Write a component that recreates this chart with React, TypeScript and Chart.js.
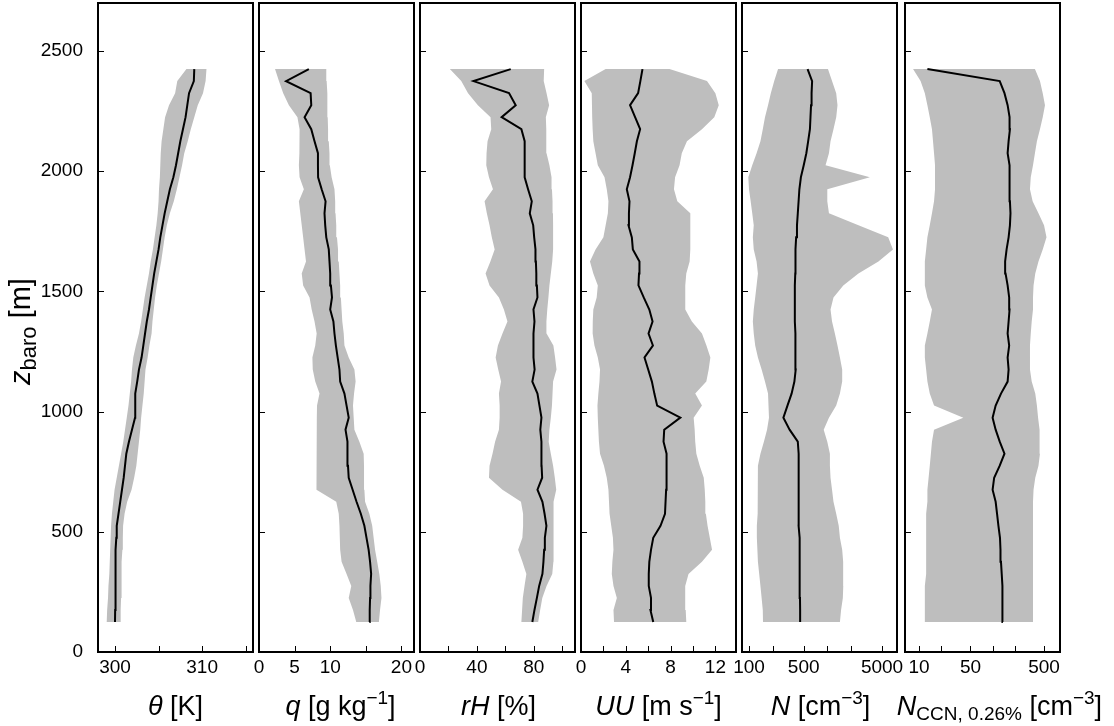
import React, { useEffect, useRef } from 'react';
import { Chart, registerables } from 'chart.js';

Chart.register(...registerables);

// Altitude levels of the profiles [m]
const HEIGHTS = [
  125, 175, 225, 275, 325, 375, 425, 475, 525, 575,
  625, 675, 725, 775, 825, 875, 925, 975, 1025, 1075,
  1125, 1175, 1225, 1275, 1325, 1375, 1425, 1475, 1525, 1575,
  1625, 1675, 1725, 1775, 1825, 1875, 1925, 1975, 2025, 2075,
  2125, 2175, 2225, 2275, 2325, 2375, 2425,
];

// Potential temperature [K]
const THETA_MEAN = [
  300.0, 300.02, 300.03, 300.05, 300.06, 300.08, 300.1, 300.15, 300.2, 300.4,
  300.6, 300.8, 301.0, 301.15, 301.3, 301.6, 301.95, 302.3, 302.3, 302.35,
  302.55, 302.75, 303.05, 303.25, 303.45, 303.65, 303.9, 304.1, 304.3, 304.5,
  304.75, 305.0, 305.2, 305.45, 305.7, 306.0, 306.3, 306.7, 307.0, 307.25,
  307.5, 307.8, 308.1, 308.3, 308.5, 309.05, 309.1,
];
const THETA_MIN = [
  299.05, 299.1, 299.2, 299.25, 299.35, 299.4, 299.45, 299.5, 299.55, 299.65,
  299.8, 299.95, 300.2, 300.45, 300.7, 300.95, 301.15, 301.35, 301.55, 301.7,
  301.85, 301.95, 302.1, 302.4, 302.75, 303.0, 303.2, 303.4, 303.65, 303.9,
  304.1, 304.35, 304.55, 304.75, 304.9, 305.0, 305.05, 305.15, 305.2, 305.25,
  305.35, 305.55, 305.75, 306.2, 306.9, 307.15, 308.2,
];
const THETA_MAX = [
  300.65, 300.65, 300.7, 300.72, 300.75, 300.8, 300.85, 300.9, 300.93, 301.1,
  301.4, 301.9, 302.2, 302.45, 302.6, 302.75, 302.9, 303.0, 303.15, 303.3,
  303.4, 303.5, 303.75, 303.95, 304.2, 304.3, 304.45, 304.6, 304.8, 305.05,
  305.3, 305.5, 305.7, 305.95, 306.3, 306.75, 307.1, 307.4, 307.7, 307.95,
  308.35, 308.7, 309.1, 309.5, 310.1, 310.4, 310.5,
];

// Specific humidity [g/kg]
const Q_MEAN = [
  15.5, 15.55, 15.6, 15.65, 15.75, 15.6, 15.4, 15.1, 14.8, 14.3,
  13.7, 13.15, 12.6, 12.5, 12.45, 12.4, 12.15, 12.6, 12.3, 12.0,
  11.4, 11.3, 11.05, 10.8, 10.6, 10.45, 10.0, 10.25, 10.1, 10.0,
  9.9, 9.8, 9.45, 9.3, 9.2, 9.35, 8.8, 8.3, 8.28, 8.28,
  7.8, 7.34, 6.4, 7.34, 7.25, 3.8, 7.0,
];
const Q_MIN = [
  13.66, 13.2, 12.6, 12.96, 12.3, 11.6, 11.4, 11.35, 11.3, 11.2,
  10.85, 8.05, 8.05, 8.05, 8.08, 8.1, 8.1, 8.12, 8.15, 8.5,
  7.9, 7.55, 7.5, 7.9, 8.1, 7.8, 7.4, 7.1, 6.2, 6.0,
  6.6, 6.4, 6.2, 6.0, 5.8, 5.6, 6.3, 5.7, 5.6, 5.65,
  5.7, 5.7, 5.4, 4.2, 3.4, 2.8, 2.25,
];
const Q_MAX = [
  16.84, 17.0, 17.2, 17.1, 16.9, 16.6, 16.3, 16.1, 15.9, 15.5,
  14.9, 14.8, 14.75, 14.75, 14.7, 14.1, 13.4, 13.3, 13.2, 13.35,
  13.57, 13.4, 12.6, 12.0, 11.9, 11.7, 11.6, 11.5, 11.4, 11.3,
  11.2, 11.1, 10.95, 10.85, 10.75, 10.7, 10.6, 10.2, 9.95, 9.9,
  9.8, 9.7, 9.65, 9.6, 9.6, 9.5, 9.45,
];

// Relative humidity [%]
const RH_MEAN = [
  79.0, 80.5, 82.2, 83.8, 86.1, 86.8, 87.3, 87.8, 88.9, 87.6,
  86.1, 82.6, 85.9, 85.5, 85.2, 85.6, 84.6, 85.4, 84.0, 82.6,
  79.0, 80.6, 79.8, 79.8, 79.8, 80.5, 79.8, 82.6, 82.2, 81.8,
  81.5, 81.2, 80.3, 79.6, 77.2, 78.6, 76.0, 73.6, 73.6, 73.6,
  73.6, 71.3, 57.4, 67.3, 62.6, 37.6, 63.8,
];
const RH_MIN = [
  71.3, 71.8, 72.3, 73.5, 74.8, 72.0, 69.0, 72.0, 72.5, 72.5,
  71.0, 58.0, 48.5, 48.9, 51.0, 52.8, 55.5, 56.0, 56.0, 55.5,
  57.0, 55.0, 53.2, 54.8, 58.0, 61.5, 59.0, 55.5, 48.9, 46.1,
  49.5, 52.5, 50.5, 48.9, 47.0, 45.4, 51.3, 48.5, 46.6, 46.8,
  47.5, 50.1, 49.6, 40.7, 33.8, 29.0, 21.0,
];
const RH_MAX = [
  83.1, 84.5, 86.0, 89.0, 93.0, 93.8, 94.0, 94.0, 94.0, 93.8,
  93.8, 95.8, 94.8, 93.6, 92.0, 90.5, 91.0, 92.0, 92.8, 93.2,
  93.6, 96.0, 95.0, 93.8, 89.0, 88.9, 89.5, 90.3, 91.0, 92.0,
  93.0, 93.6, 93.6, 93.6, 93.5, 93.2, 92.8, 92.5, 91.0, 89.0,
  88.9, 88.7, 88.5, 90.8, 89.0, 87.0, 87.3,
];

// Horizontal wind speed [m/s]
const UU_MEAN = [
  6.45, 6.2, 6.25, 6.05, 6.05, 6.1, 6.25, 6.45, 7.1, 7.5,
  7.55, 7.6, 7.6, 7.65, 7.67, 7.37, 7.43, 8.87, 6.8, 6.55,
  6.33, 6.0, 5.67, 6.42, 6.03, 6.39, 6.1, 5.6, 5.13, 5.18,
  5.22, 4.63, 4.54, 4.24, 4.28, 4.33, 4.09, 4.38, 4.6, 4.8,
  4.99, 5.28, 4.83, 4.38, 5.1, 5.3, 5.49,
];
const UU_MIN = [
  2.95, 2.9, 3.2, 2.9, 2.75, 2.8, 2.9, 2.85, 2.7, 2.55,
  2.5, 2.45, 2.3, 2.05, 1.7, 1.6, 1.55, 1.5, 1.47, 1.55,
  1.65, 1.7, 1.5, 1.2, 1.04, 1.05, 1.1, 1.4, 1.5, 1.1,
  0.8, 1.3, 2.0, 2.2, 2.4, 2.45, 2.3, 2.1, 1.5, 1.3,
  1.1, 1.04, 1.0, 0.98, 0.96, 0.3, 2.2,
];
const UU_MAX = [
  9.4, 9.35, 9.3, 9.31, 9.6, 10.8, 11.7, 11.5, 11.3, 11.15,
  11.1, 11.05, 10.96, 10.6, 10.3, 10.2, 10.15, 10.06, 10.8, 10.2,
  11.19, 11.4, 11.55, 11.2, 10.8, 9.9, 9.31, 9.31, 9.31, 9.4,
  9.7, 9.76, 9.76, 9.76, 9.76, 8.6, 8.3, 8.4, 8.8, 9.0,
  9.46, 10.8, 11.9, 12.3, 12.0, 11.25, 7.9,
];

// Aerosol number concentration [cm^-3]
const N_MEAN = [
  450, 450, 448, 448, 445, 445, 440, 440, 430, 430,
  435, 435, 430, 430, 425, 420, 330, 275, 310, 350,
  380, 395, 395, 390, 390, 385, 385, 385, 385, 390,
  390, 395, 400, 410, 420, 430, 440, 460, 500, 540,
  570, 600, 610, 620, 630, 640, 560,
];
const N_MIN = [
  151, 150, 145, 140, 135, 130, 128, 126, 126, 128,
  130, 130, 128, 130, 140, 155, 170, 180, 180, 175,
  160, 145, 130, 120, 115, 112, 115, 120, 125, 130,
  125, 115, 112, 115, 110, 105, 100, 98, 110, 125,
  140, 150, 160, 175, 190, 210, 235,
];
const N_MAX = [
  1450, 1500, 1580, 1600, 1600, 1590, 1550, 1450, 1400, 1300,
  1200, 1150, 1100, 1080, 1080, 1000, 900, 1050, 1300, 1450,
  1550, 1550, 1450, 1350, 1250, 1150, 1100, 1200, 1600, 2500,
  4500, 6900, 6000, 2500, 1050, 1000, 1000, 3500, 950, 1050,
  1100, 1200, 1300, 1350, 1300, 1150, 1020,
];

// CCN number concentration at 0.26 % supersaturation [cm^-3]
const NCCN_MEAN = [
  138, 137, 136, 135, 133, 130, 128, 126, 120, 115,
  110, 100, 105, 125, 145, 125, 110, 100, 110, 130,
  160, 165, 160, 168, 160, 165, 170, 168, 160, 150,
  148, 155, 165, 172, 175, 172, 170, 172, 168, 160,
  165, 172, 170, 160, 145, 125, 13,
];
const NCCN_MIN = [
  12, 12, 12, 12, 12.5, 12.5, 12.5, 12.5, 12.5, 12.5,
  13, 13, 13.5, 14, 14.5, 15, 16, 40, 16, 14,
  13, 12.5, 12, 12, 13, 14, 15, 13, 12, 12,
  12, 12.5, 13, 14, 15, 16, 16.5, 16.5, 16.5, 16,
  15.5, 15, 14, 13, 12, 10.5, 8.3,
];
const NCCN_MAX = [
  354, 354, 354, 354, 354, 354, 354, 354, 354, 354,
  354, 360, 380, 420, 440, 440, 430, 415, 400, 380,
  340, 322, 322, 322, 330, 340, 354, 354, 360, 380,
  420, 480, 540, 500, 420, 350, 322, 330, 354, 376,
  400, 440, 480, 515, 480, 440, 376,
];

// Axis ticks and labels
const Y_TICKS = [0, 500, 1000, 1500, 2000, 2500];
const THETA_TICKS = [300, 305, 310, 315];
const THETA_LABELS = [300, 310];
const Q_TICKS = [0, 5, 10, 15, 20];
const Q_LABELS = [0, 5, 10, 20];
const RH_TICKS = [0, 20, 40, 60, 80, 100];
const RH_LABELS = [0, 40, 80];
const UU_TICKS = [0, 2, 4, 6, 8, 10, 12];
const UU_LABELS = [0, 4, 8, 12];
const N_TICKS = [100, 200, 500, 1000, 2000, 5000];
const N_LABELS = [100, 500, 5000];
const NCCN_TICKS = [10, 20, 50, 100, 200, 500];
const NCCN_LABELS = [10, 50, 500];

type Seg = { t: string; it?: boolean; sup?: boolean; sub?: boolean };

const FONT = '"Liberation Sans", Arial, Helvetica, sans-serif';
const FILL = '#bebebe';

// Panel geometry (page pixels)
const PANEL_LEFT = [98, 259, 420, 581, 742, 905];
const PANEL_W = 155;
const AREA_TOP = 3;
const AREA_BOTTOM = 652;
const PAGE_W = 1114;
const PAGE_H = 726;

const PANELS = [
  { mean: THETA_MEAN, lo: THETA_MIN, hi: THETA_MAX, log: false, min: 298.05, max: 315.84,
    ticks: THETA_TICKS, labels: THETA_LABELS, shift: 0,
    title: [{ t: 'θ', it: true }, { t: ' [K]' }] as Seg[] },
  { mean: Q_MEAN, lo: Q_MIN, hi: Q_MAX, log: false, min: 0, max: 21.77,
    ticks: Q_TICKS, labels: Q_LABELS, shift: 4,
    title: [{ t: 'q', it: true }, { t: ' [g kg' }, { t: '−1', sup: true }, { t: ']' }] as Seg[] },
  { mean: RH_MEAN, lo: RH_MIN, hi: RH_MAX, log: false, min: 0, max: 109,
    ticks: RH_TICKS, labels: RH_LABELS, shift: 1,
    title: [{ t: 'rH', it: true }, { t: ' [%]' }] as Seg[] },
  { mean: UU_MEAN, lo: UU_MIN, hi: UU_MAX, log: false, min: 0, max: 13.84,
    ticks: UU_TICKS, labels: UU_LABELS, shift: 0,
    title: [{ t: 'UU', it: true }, { t: ' [m s' }, { t: '−1', sup: true }, { t: ']' }] as Seg[] },
  { mean: N_MEAN, lo: N_MIN, hi: N_MAX, log: true, min: 81.4, max: 7770,
    ticks: N_TICKS, labels: N_LABELS, shift: 1,
    title: [{ t: 'N', it: true }, { t: ' [cm' }, { t: '−3', sup: true }, { t: ']' }] as Seg[] },
  { mean: NCCN_MEAN, lo: NCCN_MIN, hi: NCCN_MAX, log: true, min: 6.45, max: 824,
    ticks: NCCN_TICKS, labels: NCCN_LABELS, shift: 17,
    title: [{ t: 'N', it: true }, { t: 'CCN, 0.26%', sub: true }, { t: ' [cm' }, { t: '−3', sup: true }, { t: ']' }] as Seg[] },
];

const Y_TITLE: Seg[] = [{ t: 'z', it: true }, { t: 'baro', sub: true }, { t: ' [m]' }];

function segFont(s: Seg, big: number, small: number) {
  if (s.sup || s.sub) return `${small}px ${FONT}`;
  return `${s.it ? 'italic ' : ''}${big}px ${FONT}`;
}

// Draws a mixed-style label centred on (cx, baseline)
function drawRich(ctx: CanvasRenderingContext2D, segs: Seg[], cx: number, baseline: number, big = 27, small = 19) {
  let total = 0;
  const widths = segs.map((s) => {
    ctx.font = segFont(s, big, small);
    const w = ctx.measureText(s.t).width;
    total += w;
    return w;
  });
  let x = cx - total / 2;
  ctx.fillStyle = '#000';
  ctx.textAlign = 'left';
  ctx.textBaseline = 'alphabetic';
  segs.forEach((s, i) => {
    ctx.font = segFont(s, big, small);
    const dy = s.sup ? -Math.round(big * 0.41) : s.sub ? Math.round(big * 0.19) : 0;
    ctx.fillText(s.t, x, baseline + dy);
    x += widths[i];
  });
}

function geometry(k: number) {
  const left = PANEL_LEFT[k];
  const right = left + PANEL_W;
  const cx = k === 0 ? 0 : left - 24;
  const cr = k === PANELS.length - 1 ? PAGE_W : right + 24;
  return { x: cx, w: cr - cx, padLeft: k === 0 ? 0 : left - cx, padRight: cr - right };
}

function buildChart(canvas: HTMLCanvasElement, k: number) {
  const p = PANELS[k];
  const g = geometry(k);
  const envelope = HEIGHTS.map((h, i) => ({ x: p.hi[i], y: h })).concat(
    HEIGHTS.map((h, i) => ({ x: p.lo[i], y: h })).reverse()
  );
  const meanPts = HEIGHTS.map((h, i) => ({ x: p.mean[i], y: h }));

  const decor = {
    id: 'decor' + k,
    afterDraw(chart: any) {
      const { ctx, chartArea: a, scales } = chart;
      ctx.save();
      ctx.strokeStyle = '#000';
      ctx.lineWidth = 1;
      ctx.beginPath();
      for (const v of Y_TICKS) {
        const y = Math.round(scales.y.getPixelForValue(v)) + 0.5;
        ctx.moveTo(a.left, y);
        ctx.lineTo(a.left + 6, y);
      }
      for (const v of p.ticks) {
        const x = Math.round(scales.x.getPixelForValue(v)) + 0.5;
        ctx.moveTo(x, a.bottom);
        ctx.lineTo(x, a.bottom - 6);
      }
      ctx.stroke();
      ctx.lineWidth = 2;
      ctx.strokeRect(a.left, a.top, a.right - a.left, a.bottom - a.top);
      drawRich(ctx, p.title, (a.left + a.right) / 2 + p.shift, 715);
      if (k === 0) {
        ctx.translate(30, (a.top + a.bottom) / 2 + 4);
        ctx.rotate(-Math.PI / 2);
        drawRich(ctx, Y_TITLE, 0, 0, 29, 22);
      }
      ctx.restore();
    },
  };

  return new Chart(canvas, {
    type: 'line',
    data: {
      datasets: [
        {
          data: envelope,
          fill: 'shape',
          backgroundColor: FILL,
          borderColor: 'rgba(0,0,0,0)',
          borderWidth: 0,
          pointRadius: 0,
          tension: 0,
          order: 2,
        },
        {
          data: meanPts,
          fill: false,
          borderColor: '#000',
          borderWidth: 2,
          pointRadius: 0,
          tension: 0,
          order: 1,
        },
      ],
    },
    options: {
      responsive: false,
      animation: false,
      devicePixelRatio: 1,
      events: [],
      layout: { padding: { left: g.padLeft, right: g.padRight, top: AREA_TOP, bottom: 0 } },
      plugins: { legend: { display: false }, tooltip: { enabled: false } },
      scales: {
        x: {
          type: p.log ? 'logarithmic' : 'linear',
          position: 'bottom',
          min: p.min,
          max: p.max,
          grid: { display: false, drawTicks: false },
          border: { display: false },
          afterBuildTicks: (s: any) => {
            s.ticks = p.ticks.map((v) => ({ value: v }));
          },
          afterFit: (s: any) => {
            s.height = PAGE_H - AREA_BOTTOM;
            s.paddingLeft = 0;
            s.paddingRight = 0;
          },
          ticks: {
            autoSkip: false,
            maxRotation: 0,
            minRotation: 0,
            padding: 4,
            color: '#000',
            font: { family: FONT, size: 19 },
            callback: (v: any) => (p.labels.includes(Number(v)) ? String(v) : ''),
          },
        },
        y: {
          type: 'linear',
          position: 'left',
          display: k === 0,
          min: 0,
          max: 2700,
          grid: { display: false, drawTicks: false },
          border: { display: false },
          afterBuildTicks: (s: any) => {
            s.ticks = Y_TICKS.map((v) => ({ value: v }));
          },
          afterFit: (s: any) => {
            s.width = k === 0 ? PANEL_LEFT[0] : 0;
            s.paddingTop = 0;
            s.paddingBottom = 0;
          },
          ticks: {
            autoSkip: false,
            padding: 15,
            color: '#000',
            font: { family: FONT, size: 19 },
            callback: (v: any) => String(v),
          },
        },
      },
    } as any,
    plugins: [decor],
  });
}

export default function App() {
  const refs = useRef<(HTMLCanvasElement | null)[]>([]);

  useEffect(() => {
    const charts = PANELS.map((_, k) => buildChart(refs.current[k] as HTMLCanvasElement, k));
    return () => charts.forEach((c) => c.destroy());
  }, []);

  return (
    <div style={{ position: 'absolute', left: 0, top: 0, width: PAGE_W, height: PAGE_H, background: '#fff' }}>
      {PANELS.map((_, k) => {
        const g = geometry(k);
        return (
          <canvas
            key={k}
            ref={(el) => {
              refs.current[k] = el;
            }}
            width={g.w}
            height={PAGE_H}
            style={{ position: 'absolute', left: g.x, top: 0, width: g.w, height: PAGE_H }}
          />
        );
      })}
    </div>
  );
}
